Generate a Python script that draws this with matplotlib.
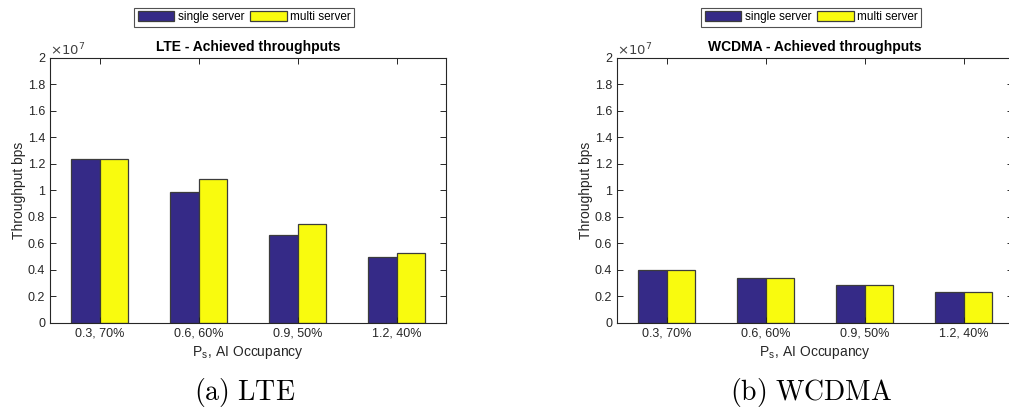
import numpy as np
import matplotlib.pyplot as plt
from matplotlib.ticker import FuncFormatter

plt.rcParams['font.family'] = ['Liberation Sans', 'DejaVu Sans']
plt.rcParams['mathtext.fontset'] = 'cm'

# data (bps)
categories = ['0.3, 70%', '0.6, 60%', '0.9, 50%', '1.2, 40%']
lte_single = [1.24e7, 0.99e7, 0.665e7, 0.50e7]
lte_multi = [1.24e7, 1.09e7, 0.745e7, 0.525e7]
wcdma_single = [0.40e7, 0.34e7, 0.29e7, 0.235e7]
wcdma_multi = [0.40e7, 0.34e7, 0.29e7, 0.235e7]

c_single = '#352a87'
c_multi = '#f9fb0e'
edge = '#3c3c3c'
txt = '#262626'

fig = plt.figure(figsize=(10.09, 4.18), dpi=100)
ax1 = fig.add_axes([0.0496, 0.2273, 0.3925, 0.634])
ax2 = fig.add_axes([0.6115, 0.2273, 0.3925, 0.634])


def draw(ax, single, multi, title, caption):
    x = np.arange(1, len(categories) + 1)
    w = 0.285
    b1 = ax.bar(x - w / 2, single, w, color=c_single, edgecolor=edge, linewidth=0.9, label='single server')
    b2 = ax.bar(x + w / 2, multi, w, color=c_multi, edgecolor=edge, linewidth=0.9, label='multi server')
    ax.set_xlim(0.5, 4.5)
    ax.set_ylim(0, 2e7)
    ax.set_xticks(x)
    ax.set_xticklabels(categories)
    ax.set_yticks(np.arange(0, 2.01e7, 0.2e7))
    ax.yaxis.set_major_formatter(FuncFormatter(lambda v, p: '%g' % round(v / 1e7, 2)))
    ax.text(0.0, 1.0, r'$\times10^{7}$', transform=ax.transAxes, ha='left', va='bottom',
            fontsize=9.5, color='#404040', math_fontfamily='dejavusans')
    ax.tick_params(direction='in', top=True, right=True, labelsize=9, colors=txt, length=4, width=0.7)
    for s in ax.spines.values():
        s.set_color(txt)
        s.set_linewidth(0.8)
    ax.set_title(title, fontsize=10, fontweight='bold', pad=5)
    ax.set_ylabel('Throughput bps', fontsize=10, color=txt, labelpad=1)
    ax.set_xlabel(r'P$_{\mathregular{s}}$, AI Occupancy', fontsize=10, color=txt, labelpad=3)
    pos = ax.get_position()
    cx = pos.x0 + 0.1925
    leg = fig.legend(handles=[b1, b2], loc='center', bbox_to_anchor=(cx, 0.959), ncol=2,
                     fontsize=8.5, frameon=True, fancybox=False, handlelength=3.1, handleheight=0.95,
                     handletextpad=0.3, columnspacing=0.5, borderpad=0.28, borderaxespad=0)
    leg.get_frame().set_edgecolor(txt)
    leg.get_frame().set_linewidth(0.8)
    fig.text(cx, 0.06, caption, ha='center', va='center', fontsize=20)


draw(ax1, lte_single, lte_multi, 'LTE - Achieved throughputs', r'$\mathrm{(a)\ LTE}$')
draw(ax2, wcdma_single, wcdma_multi, 'WCDMA - Achieved throughputs', r'$\mathrm{(b)\ WCDMA}$')

fig.savefig('out.png', dpi=100)
